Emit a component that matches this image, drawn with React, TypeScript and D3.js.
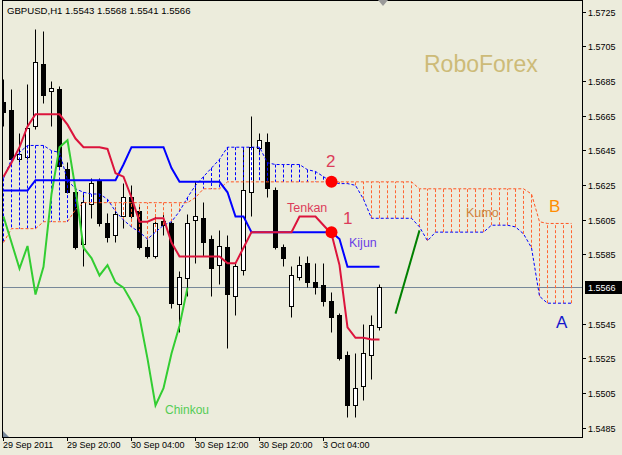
import React from 'react';
import * as d3 from 'd3';

// ---------- data ----------
const timeLabels = ["29 Sep 2011", "29 Sep 20:00", "30 Sep 04:00", "30 Sep 12:00", "30 Sep 20:00", "3 Oct 04:00"];
const timeLabelBars = [0, 8, 16, 24, 32, 40];
const priceTicks = [1.5725, 1.5705, 1.5685, 1.5665, 1.5645, 1.5625, 1.5605, 1.5585, 1.5545, 1.5525, 1.5505, 1.5485];
const lastPrice = 1.5566;

const openP = [1.5673, 1.5668, 1.5640, 1.5641, 1.5659, 1.5695, 1.5679, 1.5680, 1.5634, 1.5621,
  1.5591, 1.5614, 1.5627, 1.5603, 1.5596, 1.5607, 1.5618, 1.5610, 1.5589, 1.5584,
  1.5604, 1.5603, 1.5556, 1.5571, 1.5605, 1.5606, 1.5594, 1.5579, 1.5589, 1.5561,
  1.5576, 1.5621, 1.5646, 1.5650, 1.5622, 1.5589, 1.5555, 1.5572, 1.5580, 1.5569,
  1.5567, 1.5558, 1.5550, 1.5527, 1.5498, 1.5509, 1.5527, 1.5543];
const highP = [1.5686, 1.5680, 1.5655, 1.5683, 1.5715, 1.5714, 1.5685, 1.5682, 1.5638, 1.5624,
  1.5621, 1.5629, 1.5629, 1.5609, 1.5612, 1.5626, 1.5625, 1.5613, 1.5594, 1.5608,
  1.5608, 1.5604, 1.5575, 1.5608, 1.5627, 1.5615, 1.5596, 1.5599, 1.5596, 1.5580,
  1.5647, 1.5665, 1.5655, 1.5655, 1.5624, 1.5591, 1.5578, 1.5584, 1.5584, 1.5580,
  1.5580, 1.5563, 1.5551, 1.5529, 1.5528, 1.5545, 1.5550, 1.5568];
const lowP = [1.5659, 1.5637, 1.5638, 1.5640, 1.5657, 1.5672, 1.5659, 1.5634, 1.5620, 1.5588,
  1.5578, 1.5606, 1.5601, 1.5592, 1.5592, 1.5600, 1.5606, 1.5588, 1.5583, 1.5583,
  1.5596, 1.5554, 1.5540, 1.5561, 1.5580, 1.5584, 1.5561, 1.5568, 1.5531, 1.5550,
  1.5573, 1.5607, 1.5644, 1.5618, 1.5588, 1.5578, 1.5549, 1.5570, 1.5566, 1.5562,
  1.5555, 1.5540, 1.5524, 1.5491, 1.5491, 1.5501, 1.5513, 1.5541];
const closeP = [1.5667, 1.5640, 1.5643, 1.5658, 1.5696, 1.5677, 1.5681, 1.5636, 1.5621, 1.5589,
  1.5615, 1.5626, 1.5603, 1.5595, 1.5608, 1.5618, 1.5607, 1.5589, 1.5584, 1.5603,
  1.5602, 1.5557, 1.5572, 1.5603, 1.5607, 1.5592, 1.5577, 1.5590, 1.5562, 1.5578,
  1.5622, 1.5647, 1.5651, 1.5623, 1.5589, 1.5583, 1.5573, 1.5579, 1.5569, 1.5566,
  1.5558, 1.5549, 1.5525, 1.5498, 1.5508, 1.5528, 1.5544, 1.5566];

const tenkan = [1.5630, 1.5638, 1.5647, 1.5659, 1.5666, 1.5666, 1.5666, 1.5666, 1.5660, 1.5652,
  1.5647, 1.5647, 1.5647, 1.5646, 1.5632, 1.5630, 1.5618, 1.5604, 1.5604, 1.5606,
  1.5606, 1.5592, 1.5584, 1.5584, 1.5584, 1.5584, 1.5584, 1.5584, 1.5580, 1.5580,
  1.5589, 1.5598, 1.5598, 1.5598, 1.5598, 1.5598, 1.5598, 1.5607, 1.5607, 1.5607,
  1.5602, 1.5597, 1.5579, 1.5543, 1.5537, 1.5537, 1.5536, 1.5536];
const kijun = [1.5622, 1.5622, 1.5622, 1.5622, 1.5628, 1.5628, 1.5628, 1.5628, 1.5628, 1.5628,
  1.5628, 1.5628, 1.5628, 1.5628, 1.5628, 1.5637, 1.5647, 1.5647, 1.5647, 1.5647,
  1.5647, 1.5635, 1.5627, 1.5627, 1.5627, 1.5627, 1.5627, 1.5627, 1.5621, 1.5607,
  1.5607, 1.5598, 1.5598, 1.5598, 1.5598, 1.5598, 1.5598, 1.5598, 1.5598, 1.5598,
  1.5598, 1.5598, 1.5594, 1.5578, 1.5578, 1.5578, 1.5578, 1.5578];
const chinkou = [1.5607, 1.5592, 1.5577, 1.5590, 1.5562, 1.5578, 1.5620, 1.5647, 1.5651, 1.5623,
  1.5589, 1.5583, 1.5573, 1.5579, 1.5569, 1.5566, 1.5558, 1.5549, 1.5525, 1.5498,
  1.5508, 1.5528, 1.5544, 1.5566];
const senkouA = [1.5629, 1.5640, 1.5644, 1.5648, 1.5648, 1.5648, 1.5645, 1.5644, 1.5628, 1.5623,
  1.5621, 1.5620, 1.5620, 1.5617, 1.5610, 1.5605, 1.5601, 1.5598, 1.5594, 1.5598,
  1.5602, 1.5604, 1.5610, 1.5618, 1.5625, 1.5630, 1.5635, 1.5640, 1.5647, 1.5647,
  1.5647, 1.5647, 1.5647, 1.5638, 1.5637, 1.5637, 1.5637, 1.5637, 1.5634, 1.5633,
  1.5630, 1.5627, 1.5626, 1.5626, 1.5625, 1.5617, 1.5606, 1.5606, 1.5606, 1.5606,
  1.5606, 1.5606, 1.5601, 1.5593, 1.5598, 1.5598, 1.5598, 1.5598, 1.5598, 1.5598,
  1.5598, 1.5602, 1.5602, 1.5602, 1.5601, 1.5597, 1.5589, 1.5561, 1.5557, 1.5557,
  1.5557, 1.5557];
const senkouB = [1.5592, 1.5600, 1.5600, 1.5600, 1.5600, 1.5604, 1.5604, 1.5604, 1.5604, 1.5611,
  1.5615, 1.5615, 1.5615, 1.5615, 1.5615, 1.5615, 1.5615, 1.5615, 1.5615, 1.5615,
  1.5615, 1.5615, 1.5615, 1.5615, 1.5618, 1.5623, 1.5623, 1.5623, 1.5627, 1.5627,
  1.5627, 1.5627, 1.5627, 1.5627, 1.5627, 1.5627, 1.5627, 1.5627, 1.5627, 1.5627,
  1.5627, 1.5627, 1.5627, 1.5627, 1.5627, 1.5627, 1.5627, 1.5627, 1.5627, 1.5627,
  1.5627, 1.5627, 1.5623, 1.5623, 1.5623, 1.5623, 1.5623, 1.5623, 1.5623, 1.5623,
  1.5623, 1.5623, 1.5623, 1.5623, 1.5623, 1.5623, 1.5620, 1.5604, 1.5603, 1.5603,
  1.5603, 1.5603];
const trendBars = [49, 52];
const trendPrices = [1.5551, 1.5599];
const signalBar = 41;

// ---------- styles ----------
const BG = '#ECECDC';
const FONT = 'Liberation Sans, Arial, sans-serif';

export default function App() {
  const left = 2, top = 0, right = 582, bottom = 437;
  const x = d3.scaleLinear().domain([0, 1]).range([3.5, 11.5]);
  const y = d3.scaleLinear().domain([1.5485, 1.5725]).range([428, 12]);
  const path = (vals: number[], offset = 0) =>
    d3.line<number>().x((_, i) => x(i + offset)).y(d => y(d))(vals) || '';
  const snap = (v: number) => Math.round(v - 0.5) + 0.5;

  const candles = openP.map((o, i) => {
    const c = closeP[i], h = highP[i], l = lowP[i];
    const cx = x(i);
    const yt = snap(y(Math.max(o, c)));
    const yb = snap(y(Math.min(o, c)));
    const bull = c >= o;
    return (
      <g key={'c' + i}>
        <line x1={cx} x2={cx} y1={snap(y(h))} y2={snap(y(l))} stroke="#000" strokeWidth={1} />
        <rect x={cx - 2} y={yt} width={4} height={Math.max(yb - yt, 0.01)}
          fill={bull ? '#fff' : '#000'} stroke="#000" strokeWidth={1} />
      </g>
    );
  });

  const hatch = senkouA.map((a, i) => {
    const b = senkouB[i];
    return (
      <line key={'h' + i} x1={x(i)} x2={x(i)} y1={y(a)} y2={y(b)}
        stroke={a >= b ? '#0000FF' : '#FF6633'} strokeWidth={1} strokeDasharray="3,2" />
    );
  });

  const py = snap(y(lastPrice));

  return (
    <svg width={622} height={455} style={{ position: 'absolute', left: 0, top: 0, background: BG }}
      fontFamily={FONT}>
      <defs>
        <clipPath id="plot"><rect x={left + 0.5} y={top + 0.5} width={right - left} height={bottom - top} /></clipPath>
      </defs>
      <rect x={0} y={0} width={622} height={455} fill={BG} />
      <g clipPath="url(#plot)">
        <line x1={left} x2={right} y1={py} y2={py} stroke="#778899" strokeWidth={1} />
        {candles}
        {hatch}
        <path d={path(senkouA)} fill="none" stroke="#0000FF" strokeWidth={1} strokeDasharray="3,2" />
        <path d={path(senkouB)} fill="none" stroke="#FF5522" strokeWidth={1} strokeDasharray="3,2" />
        <path d={path(chinkou)} fill="none" stroke="#32CD32" strokeWidth={2} />
        <path d={path(kijun)} fill="none" stroke="#0000FF" strokeWidth={2} />
        <path d={path(tenkan)} fill="none" stroke="#DC143C" strokeWidth={2} />
        <line x1={x(trendBars[0])} y1={y(trendPrices[0])} x2={x(trendBars[1])} y2={y(trendPrices[1])}
          stroke="#008000" strokeWidth={2} />
        <circle cx={x(signalBar)} cy={y(kijun[signalBar])} r={6} fill="#FF0000" />
        <circle cx={x(signalBar)} cy={y(senkouB[signalBar])} r={6} fill="#FF0000" />
      </g>

      {/* annotations */}
      <text x={424} y={72} fontSize={23} fill="#CDBB78">RoboForex</text>
      <text x={287} y={212} fontSize={12.5} fill="#DC3C5A">Tenkan</text>
      <text x={349} y={247} fontSize={12.5} fill="#6A40E6">Kijun</text>
      <text x={343} y={224} fontSize={17} fill="#DC3C5A">1</text>
      <text x={326} y={167} fontSize={17} fill="#DC3C5A">2</text>
      <text x={466} y={217} fontSize={12.5} fill="#CD853F">Kumo</text>
      <text x={549} y={212} fontSize={17} fill="#FF8C00">B</text>
      <text x={556} y={328} fontSize={17} fill="#1515CC">A</text>
      <text x={165} y={414} fontSize={12} fill="#55CC55">Chinkou</text>

      {/* frame */}
      <rect x={left + 0.5} y={top + 0.5} width={right - left} height={bottom - top} fill="none" stroke="#000" strokeWidth={1} />
      <path d="M378,0 L388,0 L383,6 Z" fill="#999" />
      <path d={`M${left + 1},${bottom - 6} L${left + 1},${bottom} L${left + 7},${bottom} Z`} fill="#778899" />

      {/* title */}
      <text x={7} y={14} fontSize={9.6} fill="#000">GBPUSD,H1  1.5543 1.5568 1.5541 1.5566</text>

      {/* right axis */}
      {priceTicks.map(p => (
        <g key={'p' + p}>
          <line x1={right} x2={right + 4} y1={snap(y(p))} y2={snap(y(p))} stroke="#000" />
          <text x={588} y={y(p) + 3.5} fontSize={9} fill="#000">{p.toFixed(4)}</text>
        </g>
      ))}
      <rect x={585} y={py - 6.5} width={37} height={13} fill="#000" />
      <text x={588} y={py + 3.5} fontSize={9} fill="#fff">{lastPrice.toFixed(4)}</text>

      {/* bottom axis */}
      {timeLabelBars.map((b, i) => (
        <g key={'t' + b}>
          <line x1={snap(x(b))} x2={snap(x(b))} y1={bottom} y2={bottom + 4} stroke="#000" />
          <text x={x(b) - 0.5} y={448} fontSize={9} fill="#000">{timeLabels[i]}</text>
        </g>
      ))}
    </svg>
  );
}
